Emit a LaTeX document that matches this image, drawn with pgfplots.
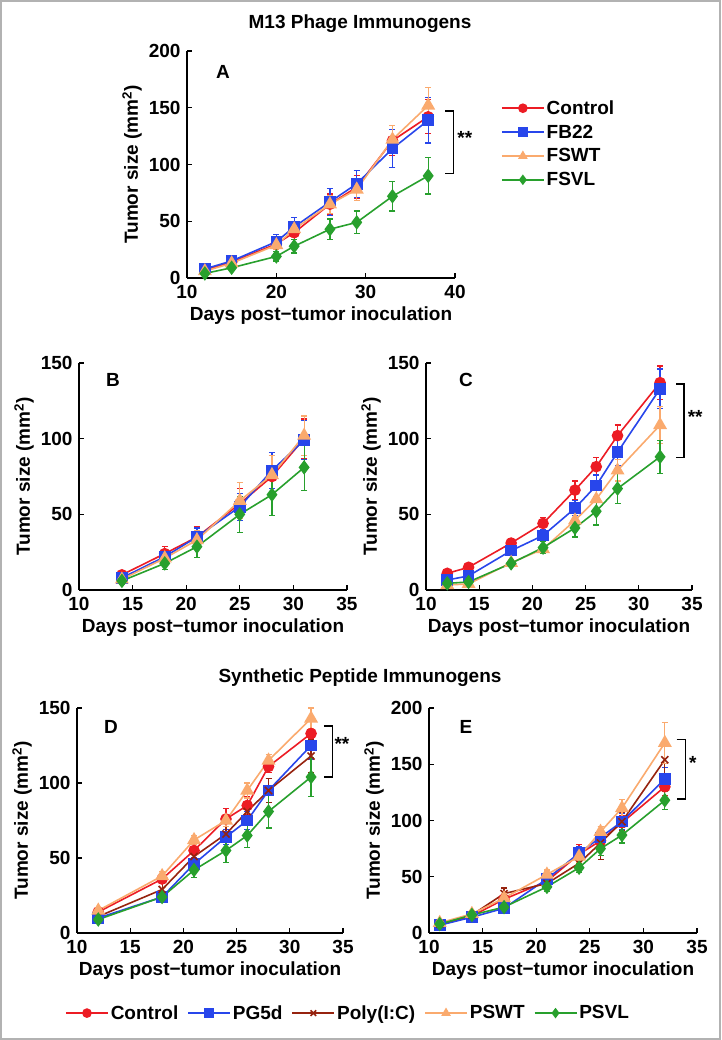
\documentclass[border=0pt]{standalone}
\usepackage{fontspec}
\setmainfont{Liberation Sans}
\usepackage{pgfplots}
\pgfplotsset{compat=1.18}
\definecolor{cCtrl}{RGB}{236,28,36}
\definecolor{cBlue}{RGB}{40,70,235}
\definecolor{cOrange}{RGB}{250,170,110}
\definecolor{cGreen}{RGB}{40,160,45}
\definecolor{cBrown}{RGB}{150,35,15}
\newcommand\fs{\fontsize{19}{22}\selectfont\bfseries}

\pgfplotsset{
  tumor/.style={
    scale only axis,
    axis x line*=bottom, axis y line*=left,
    axis line style={line width=1.4pt, black},
    tick align=inside, major tick length=5pt,
    every tick/.style={black, line width=1.2pt},
    xmin=10, ymin=0,
    clip=false,
    font=\fs,
    tick label style={font=\fs},
    xticklabel style={yshift=-4pt},
    yticklabel style={xshift=-3pt},
    xlabel style={yshift=-1pt},
    /pgf/number format/assume math mode=true,
    xlabel={Days post−tumor inoculation},
    ylabel={Tumor size (mm\textsuperscript{2})},
    every axis plot/.append style={line width=1.6pt},
    every mark/.append style={line width=0.6pt},
    error bars/y dir=both, error bars/y explicit,
    error bars/error bar style={line width=1.2pt},
    error bars/error mark options={rotate=90, mark size=3pt, line width=1.2pt},
    legend image code/.code={
      \draw[mark repeat=2,mark phase=2,#1,mark size=4pt]
        plot coordinates {(0pt,0pt) (21pt,0pt) (42pt,0pt)};},
  },
  ctrl/.style={color=cCtrl, mark=*, mark size=5pt},
  sq/.style={color=cBlue, mark=square*, mark size=5pt},
  tri/.style={color=cOrange, mark=triangle*, mark size=6.5pt},
  dia/.style={color=cGreen, mark=diamond*, mark size=6pt},
  poly/.style={color=cBrown, mark=x, mark size=5pt},
}

\begin{document}
\begin{tikzpicture}
\useasboundingbox (0pt,0pt) rectangle (721pt,1040pt);

% ---------------- A ----------------
\begin{axis}[tumor, at={(187pt,762pt)}, width=268pt, height=227pt,
  xmax=40, ymax=200, xtick={10,20,30,40}, ytick={0,50,100,150,200},
  legend style={at={(1.16,0.80)}, anchor=north west, draw=none, fill=none,
    font=\fs, row sep=5pt, cells={anchor=west}}]
\addplot[ctrl] coordinates {(12,7)+-(0,2) (15,14)+-(0,2) (20,30)+-(0,5) (22,40)+-(0,6)
  (26,65)+-(0,9) (29,80)+-(0,10) (33,121)+-(0,13) (37,142)+-(0,15)};
\addplot[sq] coordinates {(12,8)+-(0,3) (15,15)+-(0,3) (20,32)+-(0,6) (22,45)+-(0,8)
  (26,67)+-(0,12) (29,83)+-(0,12) (33,114)+-(0,17) (37,139)+-(0,20)};
\addplot[tri] coordinates {(12,6)+-(0,2) (15,13)+-(0,3) (20,29)+-(0,4) (22,43)+-(0,7)
  (26,65)+-(0,8) (29,78)+-(0,10) (33,122)+-(0,12) (37,152)+-(0,16)};
\addplot[dia] coordinates {(12,4)+-(0,2) (15,9)+-(0,2) (20,19)+-(0,4) (22,28)+-(0,6)
  (26,43)+-(0,9) (29,49)+-(0,10) (33,72)+-(0,13) (37,90)+-(0,16)};
\legend{Control, FB22, FSWT, FSVL}
\draw[line width=1.4pt] (axis cs:38.9,147) -| (axis cs:39.8,92) -- (axis cs:38.9,92);
\node at (axis cs:41.1,123) {**};
\node at (rel axis cs:0.134,0.907) {A};
\end{axis}

% ---------------- B ----------------
\begin{axis}[tumor, at={(79pt,450pt)}, width=268pt, height=227pt,
  xmax=35, ymax=150, xtick={10,15,...,35}, ytick={0,50,100,150}]
\addplot[ctrl] coordinates {(14,10)+-(0,2) (18,24)+-(0,5) (21,35)+-(0,7) (25,57)+-(0,10)
  (28,75)+-(0,14) (31,100)+-(0,13)};
\addplot[sq] coordinates {(14,8)+-(0,2) (18,22)+-(0,4) (21,35)+-(0,6) (25,55)+-(0,9)
  (28,79)+-(0,12) (31,99)+-(0,13)};
\addplot[tri] coordinates {(14,7)+-(0,2) (18,21)+-(0,4) (21,33)+-(0,6) (25,59)+-(0,12)
  (28,76)+-(0,13) (31,102)+-(0,13)};
\addplot[dia] coordinates {(14,6)+-(0,2) (18,17.6)+-(0,4) (21,28.6)+-(0,7) (25,50)+-(0,12)
  (28,63)+-(0,14) (31,81)+-(0,15)};
\node at (rel axis cs:0.127,0.925) {B};
\end{axis}

% ---------------- C ----------------
\begin{axis}[tumor, at={(426pt,450pt)}, width=266pt, height=227pt,
  xmax=35, ymax=150, xtick={10,15,...,35}, ytick={0,50,100,150}]
\addplot[ctrl] coordinates {(12,11)+-(0,2) (14,15)+-(0,2) (18,31)+-(0,3) (21,44)+-(0,4)
  (24,66)+-(0,6) (26,81.5)+-(0,6) (28,102)+-(0,7) (32,137)+-(0,11)};
\addplot[sq] coordinates {(12,6.6)+-(0,2) (14,9.3)+-(0,2) (18,26)+-(0,3) (21,36)+-(0,4)
  (24,54)+-(0,5) (26,69)+-(0,7) (28,91)+-(0,9) (32,133)+-(0,13)};
\addplot[tri] coordinates {(12,3.3)+-(0,1) (14,4)+-(0,1) (18,18)+-(0,2) (21,27)+-(0,3)
  (24,46)+-(0,5) (26,60)+-(0,6) (28,79)+-(0,7) (32,109)+-(0,12)};
\addplot[dia] coordinates {(12,4.4)+-(0,1) (14,5.3)+-(0,1) (18,17.6)+-(0,2) (21,28)+-(0,4)
  (24,41)+-(0,6) (26,52)+-(0,9) (28,67)+-(0,10) (32,88)+-(0,11)};
\draw[line width=1.4pt] (axis cs:33.5,136) -| (axis cs:34.25,87.7) -- (axis cs:33.5,87.7);
\node at (axis cs:35.3,114.5) {**};
\node at (rel axis cs:0.150,0.925) {C};
\end{axis}

% ---------------- D ----------------
\begin{axis}[tumor, at={(77pt,107pt)}, width=266pt, height=225pt,
  xmax=35, ymax=150, xtick={10,15,...,35}, ytick={0,50,100,150},
  legend columns=5,
  legend style={at={(1.019,-0.356)}, anchor=center, draw=none, fill=none,
    font=\fs, /tikz/every even column/.append style={column sep=7pt}}]
\addplot[ctrl] coordinates {(12,14)+-(0,2) (18,36)+-(0,3) (21,55)+-(0,5) (24,76)+-(0,7)
  (26,85)+-(0,6) (28,111)+-(0,4) (32,133)+-(0,3)};
\addplot[sq] coordinates {(12,10)+-(0,2) (18,24)+-(0,3) (21,46)+-(0,4) (24,64)+-(0,5)
  (26,75)+-(0,6) (28,95)+-(0,8) (32,125)+-(0,9)};
\addplot[poly] coordinates {(12,11)+-(0,2) (18,29)+-(0,4) (21,51)+-(0,5) (24,66)+-(0,5)
  (26,81)+-(0,6) (28,95)+-(0,8) (32,118)+-(0,11)};
\addplot[tri] coordinates {(12,15)+-(0,2) (18,38)+-(0,3) (21,62)+-(0,3) (24,75)+-(0,4)
  (26,95)+-(0,5) (28,115)+-(0,4) (32,143)+-(0,7)};
\addplot[dia] coordinates {(12,9)+-(0,2) (18,24)+-(0,3) (21,42)+-(0,5) (24,55)+-(0,8)
  (26,65)+-(0,8) (28,81)+-(0,11) (32,104)+-(0,13)};
\legend{Control, PG5d, Poly(I:C), PSWT, PSVL}
\draw[line width=1.4pt] (axis cs:33.2,138) -| (axis cs:34.0,104) -- (axis cs:33.2,104);
\node at (axis cs:34.9,126) {**};
\node at (rel axis cs:0.128,0.916) {D};
\end{axis}

% ---------------- E ----------------
\begin{axis}[tumor, at={(429pt,107pt)}, width=268pt, height=225pt,
  xmax=35, ymax=200, xtick={10,15,...,35}, ytick={0,50,100,150,200}]
\addplot[ctrl] coordinates {(11,7)+-(0,2) (14,15)+-(0,2) (17,30)+-(0,4) (21,46)+-(0,4)
  (24,70)+-(0,9) (26,82)+-(0,6) (28,98)+-(0,6) (32,130)+-(0,8)};
\addplot[sq] coordinates {(11,7)+-(0,2) (14,14)+-(0,2) (17,22)+-(0,3) (21,48)+-(0,4)
  (24,71)+-(0,6) (26,85)+-(0,6) (28,99)+-(0,7) (32,137)+-(0,10)};
\addplot[poly] coordinates {(11,8)+-(0,2) (14,16)+-(0,2) (17,35)+-(0,5) (21,44)+-(0,4)
  (24,62)+-(0,5) (26,80)+-(0,15) (28,99)+-(0,8) (32,154)+-(0,12)};
\addplot[tri] coordinates {(11,9)+-(0,2) (14,17)+-(0,3) (17,31)+-(0,4) (21,52)+-(0,4)
  (24,68)+-(0,5) (26,90)+-(0,5) (28,111)+-(0,8) (32,169)+-(0,18)};
\addplot[dia] coordinates {(11,8)+-(0,2) (14,16)+-(0,2) (17,23)+-(0,3) (21,41)+-(0,4)
  (24,58)+-(0,4) (26,75)+-(0,6) (28,87)+-(0,7) (32,118)+-(0,8)};
\draw[line width=1.4pt] (axis cs:33.1,172) -| (axis cs:33.9,119) -- (axis cs:33.1,119);
\node at (axis cs:34.6,151) {*};
\node at (rel axis cs:0.138,0.916) {E};
\end{axis}

\node[font=\fs] at (360pt,1016pt) {M13 Phage Immunogens};
\node[font=\fs] at (360pt,362pt) {Synthetic Peptide Immunogens};
\draw[gray!60, line width=1.5pt] (1pt,1pt) rectangle (720pt,1039pt);
\end{tikzpicture}
\end{document}
